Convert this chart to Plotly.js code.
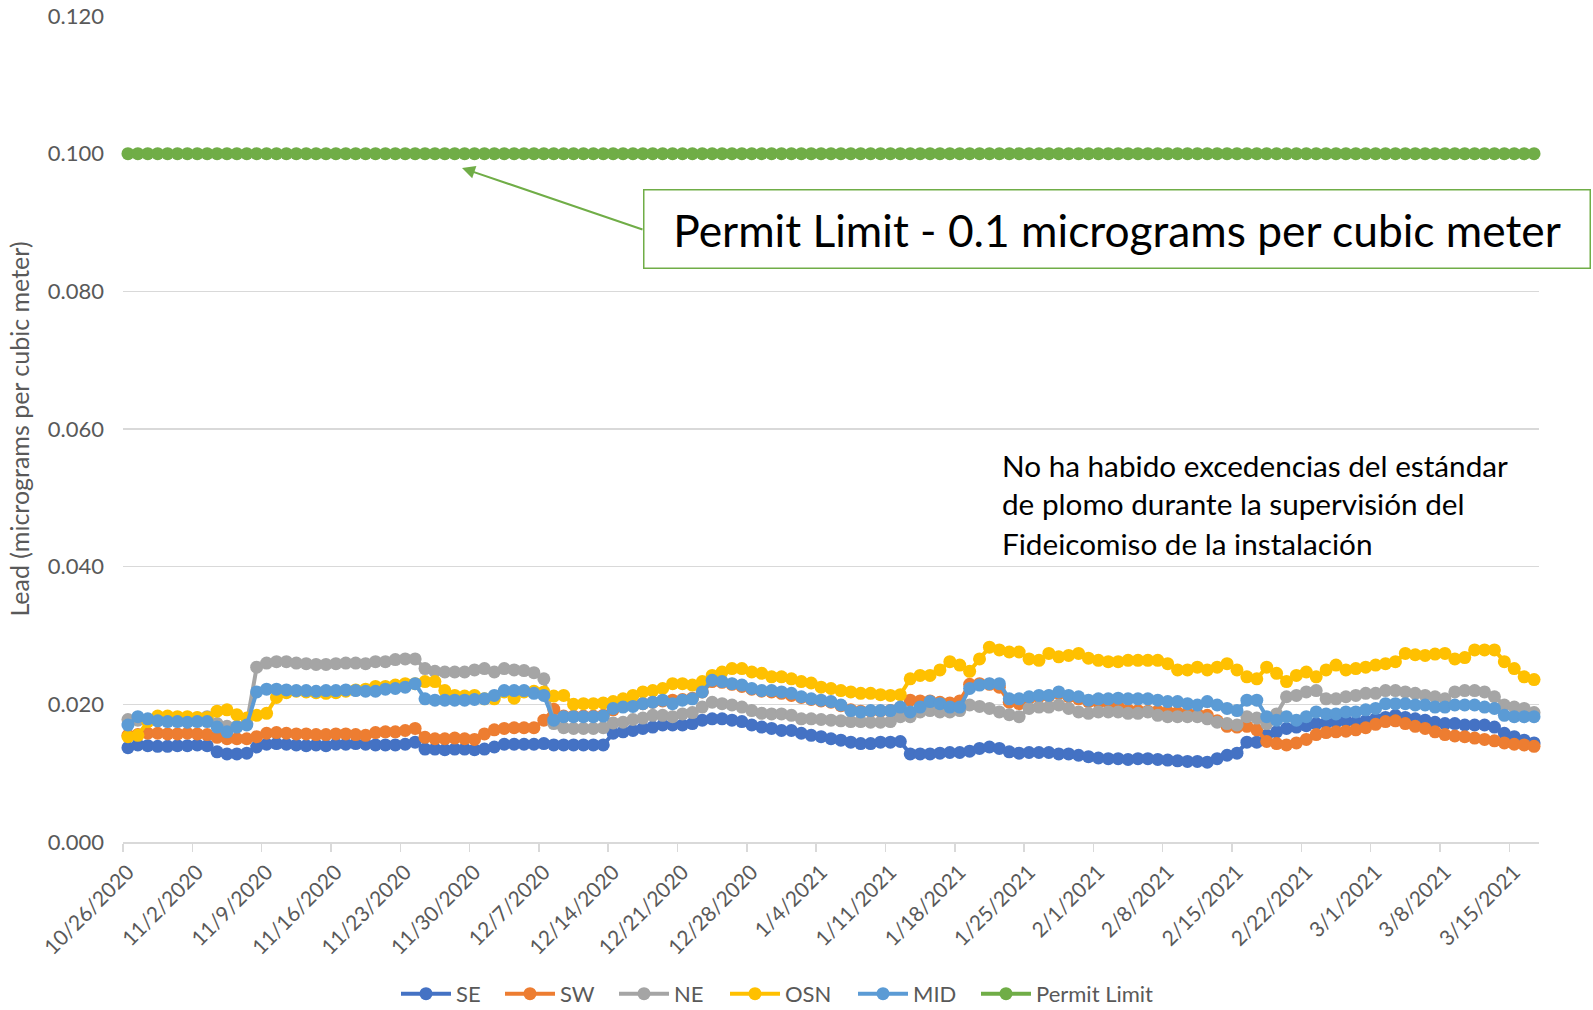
<!DOCTYPE html>
<html><head><meta charset="utf-8">
<script src="https://cdn.plot.ly/plotly-3.0.1.min.js"></script>
<style>html,body{margin:0;padding:0;background:#fff}#chart{width:1593px;height:1010px}</style>
</head><body><div id="chart"></div>
<script>
// ---- data ----
const startDate = [2020, 10, 26];   // first daily sample (10/26/2020)
const tickLabels = ['10/26/2020','11/2/2020','11/9/2020','11/16/2020','11/23/2020','11/30/2020','12/7/2020',
  '12/14/2020','12/21/2020','12/28/2020','1/4/2021','1/11/2021','1/18/2021','1/25/2021','2/1/2021',
  '2/8/2021','2/15/2021','2/22/2021','3/1/2021','3/8/2021','3/15/2021'];

const SE = [0.0137,0.0141,0.0140,0.0139,0.0139,0.0140,0.0140,0.0141,0.0140,0.0131,
  0.0128,0.0128,0.0129,0.0138,0.0142,0.0143,0.0142,0.0141,0.0140,0.0141,
  0.0140,0.0142,0.0142,0.0143,0.0142,0.0141,0.0141,0.0141,0.0142,0.0145,
  0.0135,0.0135,0.0134,0.0135,0.0135,0.0134,0.0135,0.0138,0.0142,0.0142,
  0.0142,0.0142,0.0143,0.0141,0.0141,0.0141,0.0141,0.0141,0.0141,0.0158,
  0.0160,0.0162,0.0165,0.0167,0.0170,0.0170,0.0170,0.0172,0.0177,0.0179,
  0.0179,0.0177,0.0175,0.0170,0.0167,0.0165,0.0162,0.0162,0.0158,0.0155,
  0.0153,0.0150,0.0148,0.0145,0.0143,0.0143,0.0145,0.0145,0.0146,0.0128,
  0.0128,0.0128,0.0129,0.0130,0.0130,0.0132,0.0136,0.0138,0.0136,0.0131,
  0.0129,0.0130,0.0130,0.0130,0.0128,0.0128,0.0126,0.0124,0.0122,0.0121,
  0.0121,0.0120,0.0121,0.0121,0.0120,0.0119,0.0118,0.0117,0.0117,0.0116,
  0.0121,0.0126,0.0129,0.0145,0.0145,0.0155,0.0160,0.0165,0.0167,0.0169,
  0.0172,0.0173,0.0174,0.0176,0.0174,0.0176,0.0179,0.0181,0.0184,0.0181,
  0.0179,0.0177,0.0174,0.0172,0.0172,0.0170,0.0170,0.0170,0.0167,0.0158,
  0.0153,0.0148,0.0144];

const SW = [0.0155,0.0156,0.0158,0.0158,0.0157,0.0157,0.0158,0.0157,0.0156,0.0152,
  0.0150,0.0150,0.0150,0.0153,0.0158,0.0159,0.0158,0.0157,0.0157,0.0156,
  0.0156,0.0157,0.0157,0.0156,0.0155,0.0159,0.0160,0.0160,0.0162,0.0165,
  0.0152,0.0150,0.0150,0.0151,0.0150,0.0149,0.0157,0.0163,0.0165,0.0166,
  0.0166,0.0166,0.0177,0.0193,0.0183,0.0183,0.0183,0.0183,0.0184,0.0192,
  0.0199,0.0198,0.0201,0.0203,0.0205,0.0206,0.0207,0.0209,0.0218,0.0233,
  0.0232,0.0229,0.0226,0.0222,0.0219,0.0218,0.0216,0.0213,0.0210,0.0207,
  0.0205,0.0203,0.0198,0.0192,0.0190,0.0190,0.0190,0.0191,0.0195,0.0206,
  0.0205,0.0205,0.0203,0.0202,0.0205,0.0229,0.0230,0.0229,0.0225,0.0203,
  0.0201,0.0209,0.0211,0.0212,0.0216,0.0211,0.0208,0.0204,0.0203,0.0202,
  0.0197,0.0192,0.0191,0.0190,0.0190,0.0189,0.0188,0.0187,0.0186,0.0184,
  0.0176,0.0168,0.0167,0.0168,0.0163,0.0146,0.0143,0.0141,0.0144,0.0149,
  0.0156,0.0159,0.0160,0.0161,0.0163,0.0166,0.0171,0.0175,0.0176,0.0172,
  0.0168,0.0165,0.0160,0.0156,0.0154,0.0153,0.0151,0.0149,0.0147,0.0144,
  0.0142,0.0141,0.0139];

const NE = [0.0178,0.0177,0.0178,0.0178,0.0177,0.0178,0.0179,0.0180,0.0182,0.0172,
  0.0168,0.0168,0.0172,0.0254,0.0260,0.0262,0.0262,0.0260,0.0259,0.0258,
  0.0258,0.0259,0.0260,0.0260,0.0259,0.0262,0.0262,0.0265,0.0266,0.0266,
  0.0252,0.0248,0.0247,0.0247,0.0247,0.0250,0.0252,0.0247,0.0252,0.0250,
  0.0249,0.0246,0.0237,0.0172,0.0166,0.0165,0.0165,0.0165,0.0166,0.0173,
  0.0174,0.0178,0.0180,0.0184,0.0184,0.0182,0.0186,0.0188,0.0196,0.0203,
  0.0201,0.0199,0.0196,0.0191,0.0187,0.0186,0.0186,0.0184,0.0179,0.0179,
  0.0178,0.0177,0.0176,0.0175,0.0175,0.0174,0.0174,0.0175,0.0182,0.0182,
  0.0189,0.0191,0.0189,0.0189,0.0191,0.0199,0.0197,0.0194,0.0189,0.0185,
  0.0182,0.0194,0.0196,0.0196,0.0199,0.0194,0.0189,0.0187,0.0189,0.0189,
  0.0189,0.0187,0.0187,0.0189,0.0184,0.0182,0.0182,0.0182,0.0182,0.0179,
  0.0174,0.0172,0.0170,0.0182,0.0180,0.0172,0.0186,0.0211,0.0213,0.0218,
  0.0220,0.0208,0.0208,0.0211,0.0213,0.0216,0.0216,0.0220,0.0220,0.0218,
  0.0216,0.0213,0.0211,0.0208,0.0218,0.0220,0.0220,0.0218,0.0211,0.0199,
  0.0196,0.0194,0.0188];

const OSN = [0.0153,0.0155,0.0175,0.0183,0.0183,0.0182,0.0182,0.0181,0.0181,0.0190,
  0.0192,0.0185,0.0180,0.0184,0.0187,0.0210,0.0217,0.0219,0.0218,0.0217,
  0.0216,0.0217,0.0219,0.0221,0.0222,0.0226,0.0226,0.0228,0.0230,0.0230,
  0.0233,0.0233,0.0220,0.0213,0.0212,0.0213,0.0208,0.0208,0.0218,0.0209,
  0.0218,0.0219,0.0218,0.0212,0.0213,0.0200,0.0201,0.0201,0.0202,0.0204,
  0.0208,0.0213,0.0218,0.0220,0.0223,0.0230,0.0230,0.0228,0.0233,0.0242,
  0.0247,0.0252,0.0252,0.0247,0.0245,0.0240,0.0240,0.0237,0.0233,0.0231,
  0.0225,0.0223,0.0220,0.0218,0.0216,0.0216,0.0214,0.0213,0.0214,0.0237,
  0.0242,0.0242,0.0250,0.0262,0.0257,0.0248,0.0266,0.0283,0.0279,0.0276,
  0.0276,0.0266,0.0264,0.0274,0.0269,0.0271,0.0274,0.0267,0.0264,0.0262,
  0.0262,0.0264,0.0264,0.0264,0.0264,0.0259,0.0250,0.0250,0.0254,0.0250,
  0.0254,0.0259,0.0250,0.0240,0.0237,0.0254,0.0245,0.0233,0.0242,0.0247,
  0.0240,0.0250,0.0257,0.0250,0.0252,0.0254,0.0257,0.0259,0.0262,0.0274,
  0.0272,0.0271,0.0273,0.0274,0.0266,0.0268,0.0279,0.0279,0.0279,0.0262,
  0.0252,0.0240,0.0236];

const MID = [0.0170,0.0182,0.0179,0.0176,0.0175,0.0175,0.0174,0.0175,0.0175,0.0167,
  0.0160,0.0167,0.0170,0.0218,0.0222,0.0222,0.0221,0.0220,0.0220,0.0219,
  0.0220,0.0220,0.0221,0.0220,0.0219,0.0219,0.0222,0.0223,0.0225,0.0230,
  0.0208,0.0206,0.0206,0.0206,0.0206,0.0207,0.0208,0.0213,0.0220,0.0220,
  0.0220,0.0216,0.0213,0.0177,0.0182,0.0182,0.0182,0.0182,0.0183,0.0194,
  0.0196,0.0197,0.0201,0.0203,0.0206,0.0201,0.0206,0.0208,0.0218,0.0235,
  0.0233,0.0230,0.0228,0.0223,0.0220,0.0220,0.0218,0.0216,0.0211,0.0208,
  0.0206,0.0204,0.0199,0.0191,0.0189,0.0191,0.0191,0.0191,0.0196,0.0189,
  0.0196,0.0204,0.0201,0.0196,0.0196,0.0223,0.0228,0.0230,0.0230,0.0208,
  0.0208,0.0211,0.0213,0.0213,0.0218,0.0213,0.0211,0.0206,0.0208,0.0208,
  0.0209,0.0208,0.0208,0.0208,0.0206,0.0204,0.0204,0.0201,0.0199,0.0204,
  0.0199,0.0194,0.0191,0.0206,0.0206,0.0182,0.0177,0.0182,0.0177,0.0182,
  0.0189,0.0186,0.0186,0.0189,0.0189,0.0192,0.0194,0.0201,0.0201,0.0201,
  0.0199,0.0199,0.0196,0.0196,0.0199,0.0199,0.0199,0.0196,0.0194,0.0184,
  0.0182,0.0182,0.0182];

const PERMIT = [0.1,0.1,0.1,0.1,0.1,0.1,0.1,0.1,0.1,0.1,0.1,0.1,0.1,0.1,0.1,0.1,0.1,0.1,0.1,0.1,
  0.1,0.1,0.1,0.1,0.1,0.1,0.1,0.1,0.1,0.1,0.1,0.1,0.1,0.1,0.1,0.1,0.1,0.1,0.1,0.1,
  0.1,0.1,0.1,0.1,0.1,0.1,0.1,0.1,0.1,0.1,0.1,0.1,0.1,0.1,0.1,0.1,0.1,0.1,0.1,0.1,
  0.1,0.1,0.1,0.1,0.1,0.1,0.1,0.1,0.1,0.1,0.1,0.1,0.1,0.1,0.1,0.1,0.1,0.1,0.1,0.1,
  0.1,0.1,0.1,0.1,0.1,0.1,0.1,0.1,0.1,0.1,0.1,0.1,0.1,0.1,0.1,0.1,0.1,0.1,0.1,0.1,
  0.1,0.1,0.1,0.1,0.1,0.1,0.1,0.1,0.1,0.1,0.1,0.1,0.1,0.1,0.1,0.1,0.1,0.1,0.1,0.1,
  0.1,0.1,0.1,0.1,0.1,0.1,0.1,0.1,0.1,0.1,0.1,0.1,0.1,0.1,0.1,0.1,0.1,0.1,0.1,0.1,
  0.1,0.1,0.1];

const seriesNames = ['SE','SW','NE','OSN','MID','Permit Limit'];
const seriesColors = ['#4472C4','#ED7D31','#A5A5A5','#FFC000','#5B9BD5','#70AD47'];
const yTitle = 'Lead (micrograms per cubic meter)';
const calloutText = 'Permit Limit - 0.1 micrograms per cubic meter';
const noteLines = ['No ha habido excedencias del estándar','de plomo durante la supervisión del','Fideicomiso de la instalación'];

// ---- layout helpers ----
const legendLeftPx = [396, 500, 614, 725, 853, 976];   // left edge of each legend entry (px)

const DAY = 86400000;
function fmt(ms){ return new Date(ms).toISOString().slice(0,16).replace('T',' '); }
const t0 = Date.UTC(startDate[0], startDate[1]-1, startDate[2]);
const dates = SE.map((_, i) => fmt(t0 + i*DAY));
// Excel date axis, "between tick marks": each day occupies a bin; tick at bin start
function labelMs(s){ const p = s.split('/').map(Number); return Date.UTC(p[2], p[0]-1, p[1]); }
const tickVals = tickLabels.map(s => fmt(labelMs(s) - DAY/2));
const xRange = [fmt(t0 - DAY/2), fmt(t0 + (SE.length - 0.5)*DAY)];

const FONT = 'Lato, Carlito, Calibri, sans-serif';
const L = 123, R = 54, T = 16, B = 168, W = 1593, H = 1010;
const pw = W - L - R, ph = H - T - B;
const px2x = px => (px - L) / pw;
const px2y = py => (H - B - py) / ph;

const allSeries = [SE, SW, NE, OSN, MID, PERMIT];
const traces = allSeries.map((ys, k) => ({
  type:'scatter', mode:'lines+markers', x: dates, y: ys, name: seriesNames[k],
  legend: k === 0 ? 'legend' : 'legend' + (k + 1),
  line:{color: seriesColors[k], width:4},
  marker:{color: seriesColors[k], size:13, line:{width:0}},
  cliponaxis:false, hoverinfo:'skip'
}));

const annotations = [
  {xref:'paper', yref:'paper', x: px2x(462), y: px2y(168), ax: 182, ay: 62, axref:'pixel', ayref:'pixel',
   text:'', showarrow:true, arrowhead:2, arrowsize:1.3, arrowwidth:2, arrowcolor:'#70AD47', standoff:0},
  {xref:'paper', yref:'paper', x: px2x(1117), y: px2y(229.5), xanchor:'center', yanchor:'middle',
   text: calloutText, showarrow:false, font:{family:FONT, size:44.3, color:'#000'},
   bordercolor:'#70AD47', borderwidth:1.5, borderpad:10, bgcolor:'#fff', width:925, height:57}
];
const noteY = [465, 504, 543];
noteLines.forEach((s, i) => annotations.push({
  xref:'paper', yref:'paper', x: px2x(1000), y: px2y(noteY[i]), xanchor:'left', yanchor:'middle',
  text: s, showarrow:false, font:{family:FONT, size:29.7, color:'#000'}
}));

const layout = {
  width: W, height: H,
  margin:{l:L, r:R, t:T, b:B, pad:0},
  paper_bgcolor:'#fff', plot_bgcolor:'#fff',
  font:{family:FONT, color:'#595959', size:21},
  showlegend:true,
  xaxis:{type:'date', range:xRange, tickmode:'array', tickvals:tickVals, ticktext:tickLabels, tickangle:-45,
         ticklabelshift:5,
         ticks:'outside', ticklen:8, tickcolor:'#d9d9d9', tickwidth:1.5,
         showline:true, linecolor:'#d9d9d9', linewidth:1.5, showgrid:false, zeroline:false,
         tickfont:{family:FONT, size:21, color:'#595959'}, automargin:false, fixedrange:true},
  yaxis:{range:[0,0.12], tick0:0, dtick:0.02, tickformat:'.3f', showgrid:true, gridcolor:'#d9d9d9', gridwidth:1.3,
         zeroline:false, showline:false, ticks:'', ticklabelstandoff:18,
         tickfont:{family:FONT, size:22, color:'#595959'},
         title:{text:yTitle, font:{family:FONT, size:25, color:'#595959'}, standoff:11},
         automargin:false, fixedrange:true},
  annotations: annotations
};
seriesNames.forEach((_, k) => {
  layout[k === 0 ? 'legend' : 'legend' + (k + 1)] = {
    orientation:'h', xref:'paper', x: px2x(legendLeftPx[k]), xanchor:'left',
    yref:'container', y:0.016, yanchor:'middle', itemwidth:50,
    font:{family:FONT, size:22, color:'#595959'}, bgcolor:'rgba(0,0,0,0)', borderwidth:0
  };
});

Plotly.newPlot('chart', traces, layout, {staticPlot:true, displayModeBar:false});
</script>
</body></html>
